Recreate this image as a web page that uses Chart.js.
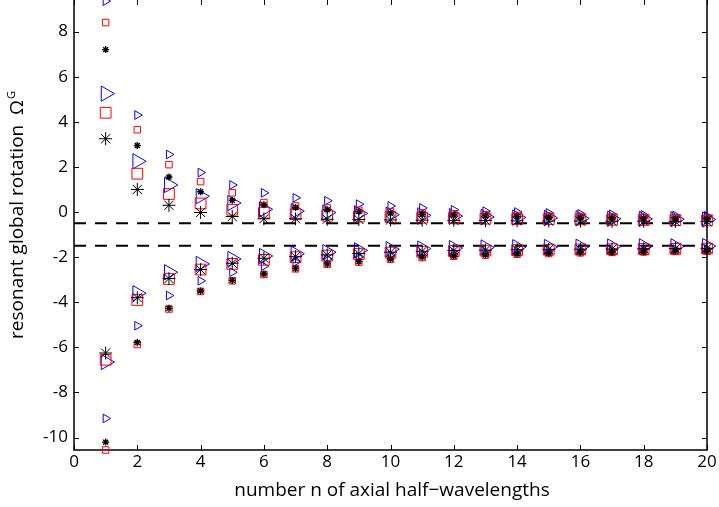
<!DOCTYPE html>
<html>
<head>
<meta charset="utf-8">
<script src="https://cdn.jsdelivr.net/npm/chart.js@4/dist/chart.umd.min.js"></script>
<style>
  html, body { margin: 0; padding: 0; background: #fff; }
  #wrap { width: 719px; height: 507px; position: relative; }
</style>
</head>
<body>
<div id="wrap"><canvas id="chart" width="719" height="507"></canvas></div>
<script>
const nValues = [1, 2, 3, 4, 5, 6, 7, 8, 9, 10, 11, 12, 13, 14, 15, 16, 17, 18, 19, 20];

// upper branch (approaches -0.5 from above)
const upSmallTri = [9.35, 4.3, 2.55, 1.75, 1.2, 0.85, 0.63, 0.5, 0.35, 0.27, 0.18, 0.1, 0.04, 0.0, -0.04, -0.08, -0.1, -0.13, -0.15, -0.17];
const upSmallSq = [8.4, 3.65, 2.1, 1.35, 0.85, 0.42, 0.27, 0.18, 0.08, 0.02, -0.04, -0.08, -0.12, -0.15, -0.18, -0.2, -0.22, -0.24, -0.26, -0.27];
const upSmallAst = [7.2, 2.95, 1.55, 0.9, 0.52, 0.32, 0.2, 0.1, 0.02, -0.05, -0.1, -0.13, -0.17, -0.2, -0.22, -0.24, -0.26, -0.27, -0.29, -0.3];
const upLargeTri = [5.25, 2.25, 1.2, 0.7, 0.4, 0.12, 0.04, -0.02, -0.06, -0.12, -0.15, -0.18, -0.22, -0.24, -0.26, -0.28, -0.3, -0.31, -0.32, -0.33];
const upLargeSq = [4.4, 1.7, 0.8, 0.38, 0.1, -0.03, -0.1, -0.16, -0.2, -0.22, -0.25, -0.27, -0.29, -0.31, -0.32, -0.33, -0.34, -0.35, -0.36, -0.37];
const upLargeAst = [3.25, 1.0, 0.3, -0.02, -0.2, -0.3, -0.3, -0.32, -0.33, -0.35, -0.36, -0.37, -0.38, -0.39, -0.4, -0.4, -0.41, -0.41, -0.42, -0.42];

// lower branch (approaches -1.5 from below)
const lowSmallTri = [-9.15, -5.04, -3.7, -3.05, -2.67, -2.4, -2.22, -2.08, -1.98, -1.9, -1.84, -1.8, -1.76, -1.73, -1.71, -1.69, -1.68, -1.66, -1.65, -1.64];
const lowSmallSq = [-10.55, -5.87, -4.3, -3.52, -3.05, -2.77, -2.52, -2.32, -2.22, -2.1, -2.02, -1.96, -1.91, -1.87, -1.84, -1.81, -1.79, -1.77, -1.75, -1.74];
const lowSmallAst = [-10.2, -5.78, -4.27, -3.5, -3.03, -2.75, -2.5, -2.3, -2.2, -2.08, -2.0, -1.95, -1.9, -1.86, -1.83, -1.8, -1.78, -1.76, -1.74, -1.73];
const lowLargeTri = [-6.65, -3.6, -2.67, -2.3, -2.08, -1.95, -1.85, -1.78, -1.7, -1.65, -1.62, -1.6, -1.57, -1.56, -1.55, -1.54, -1.53, -1.52, -1.52, -1.51];
const lowLargeSq = [-6.55, -3.9, -2.97, -2.55, -2.3, -2.12, -2.0, -1.93, -1.86, -1.8, -1.76, -1.73, -1.71, -1.69, -1.67, -1.66, -1.65, -1.64, -1.63, -1.62];
const lowLargeAst = [-6.25, -3.8, -2.95, -2.55, -2.27, -2.05, -1.98, -1.9, -1.84, -1.78, -1.74, -1.71, -1.69, -1.67, -1.66, -1.65, -1.64, -1.63, -1.62, -1.61];

const asymptotes = [-0.5, -1.5];
const xRange = [0, 20];
const xTicks = [0, 2, 4, 6, 8, 10, 12, 14, 16, 18, 20];
const yTicks = [-10, -8, -6, -4, -2, 0, 2, 4, 6, 8];

const xTitle = 'number n of axial half\u2212wavelengths';
const yTitle = 'resonant global rotation  \u03A9';
const yTitleSup = 'G';

const FONT = '"Open Sans", "DejaVu Sans", sans-serif';

const both = (up, low) =>
  nValues.map((n, i) => ({ x: n, y: up[i] }))
    .concat(nValues.map((n, i) => ({ x: n, y: low[i] })));

const marker = (data, style, color, radius, width) => ({
  data,
  pointStyle: style,
  pointRadius: radius,
  pointRotation: style === 'triangle' ? 90 : 0,
  borderColor: color,
  pointBorderColor: color,
  pointBackgroundColor: 'rgba(0,0,0,0)',
  pointBorderWidth: width,
  showLine: false,
  clip: false,
});

const dashed = (v) => ({
  data: xRange.map((x) => ({ x, y: v })),
  showLine: true,
  pointRadius: 0,
  borderColor: '#000',
  borderWidth: 2,
  borderDash: [12, 9],
  fill: false,
});

const noPad = (s) => {
  s.paddingTop = 0;
  s.paddingBottom = 0;
  s.paddingLeft = 0;
  s.paddingRight = 0;
};

// box with inward ticks + axis titles (Ω with superscript G)
const frame = {
  id: 'frame',
  beforeDatasetsDraw(chart) {
    const { ctx, chartArea: a, scales: { x, y } } = chart;
    ctx.save();
    ctx.strokeStyle = '#000';
    ctx.lineWidth = 1.5;
    ctx.beginPath();
    ctx.moveTo(a.left, a.top);
    ctx.lineTo(a.left, a.bottom);
    ctx.lineTo(a.right, a.bottom);
    ctx.lineTo(a.right, a.top);
    ctx.stroke();
    ctx.lineWidth = 1;
    ctx.beginPath();
    const t = 5;
    for (const v of xTicks) {
      const px = Math.round(x.getPixelForValue(v)) + 0.5;
      ctx.moveTo(px, a.bottom); ctx.lineTo(px, a.bottom - t);
      ctx.moveTo(px, a.top); ctx.lineTo(px, a.top + t);
    }
    for (const v of yTicks) {
      const py = Math.round(y.getPixelForValue(v)) + 0.5;
      ctx.moveTo(a.left, py); ctx.lineTo(a.left + t, py);
      ctx.moveTo(a.right, py); ctx.lineTo(a.right - t, py);
    }
    ctx.stroke();
    ctx.restore();
  },
  afterDraw(chart) {
    const { ctx } = chart;
    ctx.save();
    ctx.fillStyle = '#000';
    ctx.textBaseline = 'middle';
    ctx.font = '19px ' + FONT;
    ctx.textAlign = 'center';
    ctx.fillText(xTitle, 392, 491);

    ctx.translate(18, 215);
    ctx.rotate(-Math.PI / 2);
    ctx.textAlign = 'left';
    const mainW = ctx.measureText(yTitle).width;
    ctx.font = '11px ' + FONT;
    const supW = ctx.measureText(yTitleSup).width;
    const start = -(mainW + supW + 1) / 2;
    ctx.font = '19px ' + FONT;
    ctx.fillText(yTitle, start, 0);
    ctx.font = '11px ' + FONT;
    ctx.fillText(yTitleSup, start + mainW + 1, -6);
    ctx.restore();
  },
};

new Chart(document.getElementById('chart'), {
  type: 'scatter',
  data: {
    datasets: [
      marker(both(upSmallAst, lowSmallAst), 'star', '#000', 3.5, 1.4),
      marker(both(upLargeAst, lowLargeAst), 'star', '#000', 6.5, 1),
      marker(both(upSmallSq, lowSmallSq), 'rect', '#ff0000', 4.6, 1),
      marker(both(upLargeSq, lowLargeSq), 'rect', '#ff0000', 7.6, 1),
      marker(both(upSmallTri, lowSmallTri), 'triangle', '#0000ff', 5, 1),
      marker(both(upLargeTri, lowLargeTri), 'triangle', '#0000ff', 8.8, 1),
      ...asymptotes.map(dashed),
    ],
  },
  plugins: [frame],
  options: {
    responsive: false,
    animation: false,
    layout: { autoPadding: false, padding: { left: 0, right: 12, top: 0, bottom: 0 } },
    plugins: { legend: { display: false }, tooltip: { enabled: false } },
    scales: {
      x: {
        type: 'linear',
        min: 0,
        max: 20,
        afterBuildTicks: (s) => { s.ticks = xTicks.map((value) => ({ value })); },
        afterFit: (s) => { s.height = 57; noPad(s); },
        grid: { display: false, drawTicks: false },
        border: { display: false },
        ticks: { color: '#000', font: { family: FONT, size: 17 }, padding: 2, maxRotation: 0 },
      },
      y: {
        type: 'linear',
        min: -10.55,
        max: 9.4,
        afterBuildTicks: (s) => { s.ticks = yTicks.map((value) => ({ value })); },
        afterFit: (s) => { s.width = 74; noPad(s); },
        grid: { display: false, drawTicks: false },
        border: { display: false },
        ticks: { color: '#000', font: { family: FONT, size: 17 }, padding: 6 },
      },
    },
  },
});
</script>
</body>
</html>
